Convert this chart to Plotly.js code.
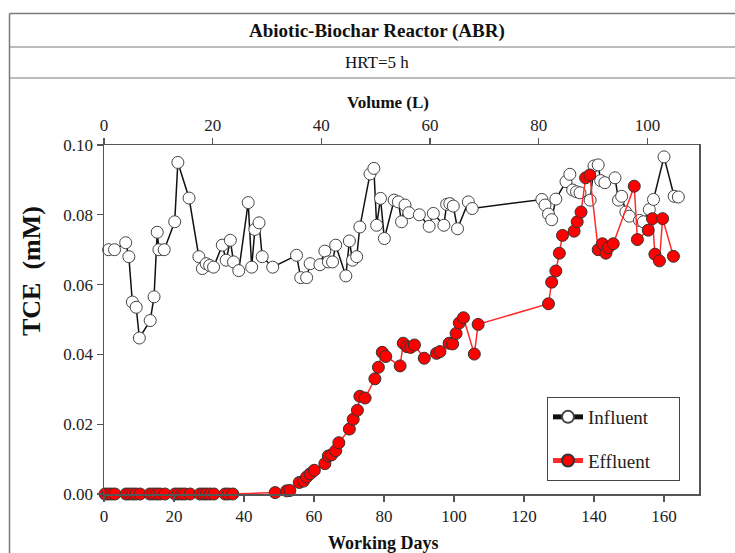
<!DOCTYPE html>
<html>
<head>
<meta charset="utf-8">
<script src="https://cdn.plot.ly/plotly-3.0.1.min.js"></script>
<style>html,body{margin:0;padding:0;background:#fff;}#chart{width:735px;height:553px;}</style>
</head>
<body>
<div id="chart"></div>
<script>
// Influent TCE (mM) vs working days
const inflDays = [1.3, 3.0, 6.2, 7.1, 8.1, 9.2, 10.1,
  13.2, 14.3, 15.2, 15.7, 17.2,
  20.2, 21.1, 24.3,
  27.1, 28.1, 29.2, 30.2, 31.3,
  33.8, 34.9, 36.1, 37.0, 38.5,
  41.2, 42.2, 43.1, 44.3, 45.2, 48.2,
  55.0, 56.2, 57.9, 58.9,
  61.7, 63.1, 64.1, 65.3, 66.2,
  69.1, 70.1, 71.0, 72.2, 73.1,
  76.0, 77.1, 77.9, 79.0, 80.1,
  82.9, 84.1, 85.0, 86.0, 87.1,
  90.1, 92.9, 94.1,
  97.1, 97.9, 98.8, 99.8, 101.0,
  104.1, 105.2,
  125.1, 126.0, 127.0, 127.9, 129.1,
  132.0, 133.1, 133.9, 135.0, 136.0,
  138.9, 140.0, 141.2, 141.9, 143.1,
  146.0, 147.0, 147.9, 149.1, 150.1,
  153.0, 154.1, 155.8, 157.0,
  160.0, 162.9, 164.1];
const inflVals = [0.0700, 0.0700, 0.0720, 0.0680, 0.0550, 0.0535, 0.0447,
  0.0497, 0.0565, 0.0750, 0.0700, 0.0700,
  0.0780, 0.0950, 0.0848,
  0.0680, 0.0646, 0.0660, 0.0655, 0.0650,
  0.0713, 0.0670, 0.0727, 0.0665, 0.0640,
  0.0835, 0.0650, 0.0758, 0.0777, 0.0680, 0.0650,
  0.0684, 0.0620, 0.0620, 0.0660,
  0.0657, 0.0696, 0.0665, 0.0665, 0.0713,
  0.0625, 0.0725, 0.0670, 0.0680, 0.0765,
  0.0917, 0.0933, 0.0770, 0.0847, 0.0732,
  0.0842, 0.0837, 0.0780, 0.0828, 0.0806,
  0.0800, 0.0767, 0.0804,
  0.0770, 0.0830, 0.0832, 0.0825, 0.0760,
  0.0837, 0.0818,
  0.0844, 0.0828, 0.0802, 0.0786, 0.0845,
  0.0895, 0.0916, 0.0871, 0.0866, 0.0863,
  0.0842, 0.0940, 0.0943, 0.0898, 0.0892,
  0.0906, 0.0842, 0.0853, 0.0808, 0.0796,
  0.0784, 0.0780, 0.0815, 0.0844,
  0.0966, 0.0853, 0.0851];

// Effluent TCE (mM) vs working days
const effDays = [0.3, 1.2, 2.2, 3.1, 6.3, 7.2, 8.2, 9.1, 10.3,
  13.1, 14.1, 15.1, 16.0, 17.4, 20.3, 21.2, 22.2, 23.1, 24.6,
  27.4, 28.4, 29.3, 30.3, 31.4, 34.6, 35.5, 36.8,
  48.9, 52.2, 53.1,
  55.8, 57.0, 57.9, 58.9, 60.1,
  63.1, 64.1, 65.0, 66.2, 67.1,
  70.1, 71.2, 72.4, 73.1, 74.6,
  77.4, 78.4, 79.5, 80.5,
  84.6, 85.5, 86.6, 87.6, 88.7,
  91.5, 95.0, 96.0,
  98.6, 99.6, 100.6, 101.5, 102.7,
  105.8, 106.9,
  127.0, 127.9, 129.1, 130.1, 131.0,
  134.3, 135.2, 136.3, 137.6, 138.8,
  141.2, 142.4, 143.4, 144.1, 145.5,
  151.5, 152.4, 155.5, 156.7, 157.4, 158.7, 159.6, 162.7];
const effVals = [0, 0, 0, 0, 0, 0, 0, 0, 0,
  0, 0, 0, 0, 0, 0, 0, 0, 0, 0,
  0, 0, 0, 0, 0, 0, 0, 0,
  0.0004, 0.0009, 0.0010,
  0.0033, 0.0037, 0.0049, 0.0058, 0.0068,
  0.0087, 0.0109, 0.0112, 0.0124, 0.0147,
  0.0186, 0.0214, 0.0240, 0.0280, 0.0275,
  0.0330, 0.0363, 0.0406, 0.0394,
  0.0367, 0.0432, 0.0422, 0.0420, 0.0427,
  0.0389, 0.0403, 0.0408,
  0.0432, 0.0430, 0.0460, 0.0490, 0.0505,
  0.0401, 0.0486,
  0.0545, 0.0607, 0.0639, 0.0690, 0.0741,
  0.0753, 0.0780, 0.0808, 0.0906, 0.0914,
  0.0700, 0.0717, 0.0690, 0.0706, 0.0717,
  0.0882, 0.0729, 0.0756, 0.0789, 0.0687, 0.0668, 0.0789, 0.0681];

const dayTicks = [0, 20, 40, 60, 80, 100, 120, 140, 160];
const volTicks = [0, 20, 40, 60, 80, 100];
const yTicks = [0.00, 0.02, 0.04, 0.06, 0.08, 0.10];

const seriesNames = ['Influent', 'Effluent'];
const titleText = 'Abiotic-Biochar Reactor (ABR)';
const subtitleText = 'HRT=5 h';

const dayRange = [0, 170];
const volRange = [0, 109.5];

const FONT = 'Liberation Serif, Times New Roman, serif';
const AX = '#555555';
const PAD = '\u00a0\u00a0\u00a0\u00a0\u00a0';

const traces = [
  {
    x: inflDays, y: inflVals, name: seriesNames[0] + PAD, type: 'scatter', mode: 'lines+markers',
    legendgroup: 'a', cliponaxis: false,
    line: {color: '#111111', width: 1.5},
    marker: {size: 12, color: '#ffffff', line: {color: '#444444', width: 1}}
  },
  {
    x: effDays, y: effVals, name: seriesNames[1] + PAD, type: 'scatter', mode: 'lines+markers',
    legendgroup: 'b', cliponaxis: false,
    line: {color: '#ff2a2a', width: 1.5},
    marker: {size: 12, color: '#ff0000', line: {color: '#333333', width: 1}}
  },
  {
    x: [], y: [], xaxis: 'x2', yaxis: 'y', type: 'scatter', mode: 'markers',
    showlegend: false, hoverinfo: 'skip'
  }
];

const X0 = 104, X1 = 699, Y0 = 145, Y1 = 494;
const px = v => (v - X0) / (X1 - X0);
const py = v => (Y1 - v) / (Y1 - Y0);

const layout = {
  width: 735, height: 553,
  margin: {l: 104, r: 36, t: 145, b: 59},
  paper_bgcolor: '#ffffff', plot_bgcolor: '#ffffff',
  font: {family: FONT, size: 17, color: '#222222'},
  showlegend: true,
  legend: {
    x: px(547), y: py(397), xanchor: 'left', yanchor: 'top',
    bordercolor: '#444444', borderwidth: 1, bgcolor: '#ffffff',
    font: {family: FONT, size: 19, color: '#222222'},
    traceorder: 'grouped', tracegroupgap: 16,
    itemsizing: 'constant'
  },
  xaxis: {
    range: dayRange, tickvals: dayTicks, ticktext: dayTicks.map(String),
    ticks: 'outside', ticklen: 6, tickcolor: AX, tickwidth: 1.2,
    showline: true, linecolor: AX, linewidth: 1.5, showgrid: false, zeroline: false,
    tickfont: {family: FONT, size: 17, color: '#222222'}
  },
  xaxis2: {
    overlaying: 'x', side: 'top', anchor: 'y',
    range: volRange, tickvals: volTicks, ticktext: volTicks.map(String),
    ticks: 'outside', ticklen: 6, tickcolor: AX, tickwidth: 1.2,
    showline: true, linecolor: AX, linewidth: 1.5, showgrid: false, zeroline: false,
    tickfont: {family: FONT, size: 17, color: '#222222'}
  },
  yaxis: {
    range: [0, 0.1], tickvals: yTicks, ticktext: yTicks.map(v => v.toFixed(2)),
    ticks: 'outside', ticklen: 6, tickcolor: AX, tickwidth: 1.2,
    showline: true, mirror: true, linecolor: AX, linewidth: 1.5,
    showgrid: false, zeroline: false,
    tickfont: {family: FONT, size: 17, color: '#222222'}
  },
  shapes: [
    {type: 'line', xref: 'paper', yref: 'paper', x0: px(9.5), x1: px(735), y0: py(13.5), y1: py(13.5), line: {color: '#7a7a7a', width: 1.5}},
    {type: 'line', xref: 'paper', yref: 'paper', x0: px(9.5), x1: px(735), y0: py(47), y1: py(47), line: {color: '#7a7a7a', width: 1.2}},
    {type: 'line', xref: 'paper', yref: 'paper', x0: px(9.5), x1: px(735), y0: py(78), y1: py(78), line: {color: '#7a7a7a', width: 1.2}},
    {type: 'line', xref: 'paper', yref: 'paper', x0: px(9.5), x1: px(9.5), y0: py(13.5), y1: py(553), line: {color: '#7a7a7a', width: 1.5}}
  ],
  annotations: [
    {text: '<b>' + titleText + '</b>', xref: 'paper', yref: 'paper', x: px(377), y: py(31), xanchor: 'center', yanchor: 'middle', showarrow: false, font: {family: FONT, size: 19, color: '#111111'}},
    {text: subtitleText, xref: 'paper', yref: 'paper', x: px(377), y: py(62), xanchor: 'center', yanchor: 'middle', showarrow: false, font: {family: FONT, size: 17, color: '#111111'}},
    {text: '<b>Volume (L)</b>', xref: 'paper', yref: 'paper', x: px(388), y: py(102), xanchor: 'center', yanchor: 'middle', showarrow: false, font: {family: FONT, size: 17, color: '#111111'}},
    {text: '<b>Working Days</b>', xref: 'paper', yref: 'paper', x: px(383), y: py(543), xanchor: 'center', yanchor: 'middle', showarrow: false, font: {family: FONT, size: 18, color: '#111111'}},
    {text: '<b>TCE  (mM)</b>', xref: 'paper', yref: 'paper', x: px(31), y: py(271), xanchor: 'center', yanchor: 'middle', textangle: -90, showarrow: false, font: {family: FONT, size: 26, color: '#111111'}}
  ]
};

Plotly.newPlot('chart', traces, layout, {displayModeBar: false, staticPlot: true});
</script>
</body>
</html>
